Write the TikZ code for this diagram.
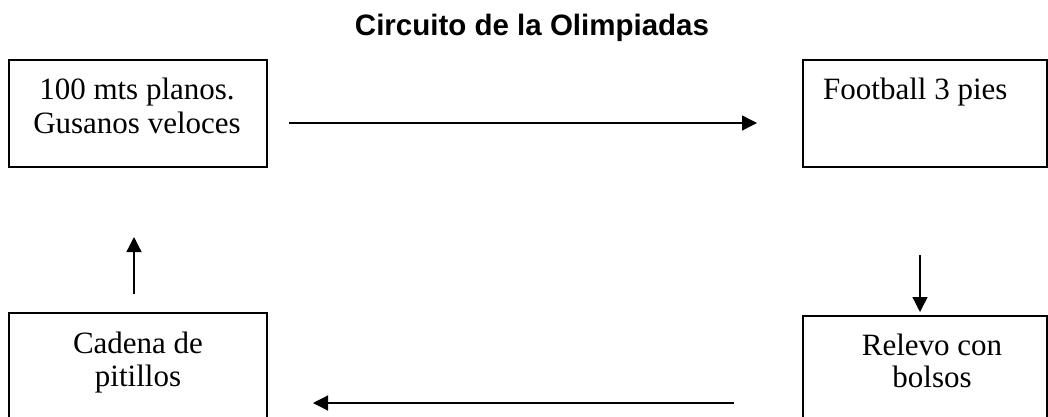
\documentclass[tikz,border=0pt]{standalone}
\usepackage{fontspec}
\setmainfont{Liberation Serif}
\newfontfamily\titlefont{Liberation Sans}
\usetikzlibrary{arrows.meta}
\begin{document}
\begin{tikzpicture}[x=1pt,y=-1pt,
  box/.style={draw=black,line width=1.3pt,fill=none},
  lbl/.style={anchor=base,inner sep=0pt,font=\fontsize{31}{36}\selectfont},
  lbll/.style={anchor=base west,inner sep=0pt,font=\fontsize{31}{36}\selectfont},
  conn/.style={line width=1.3pt,-{Triangle[length=15pt,width=15pt]}}]
\useasboundingbox (0,0) rectangle (1048,416);
\clip (0,0) rectangle (1048,416);
\fill[white] (0,0) rectangle (1048,416);
% title
\node[anchor=base,inner sep=0pt,font=\titlefont\bfseries\fontsize{29.5}{34}\selectfont] (title) at (532,35) {Circuito de la Olimpiadas};
% boxes
\draw[box] (9,60) rectangle (267,167);
\node[inner sep=0pt,minimum width=258pt,minimum height=107pt] (b1) at (138,113.5) {};
\draw[box] (803,60) rectangle (1047,167);
\node[inner sep=0pt,minimum width=244pt,minimum height=107pt] (b2) at (925,113.5) {};
\draw[box] (9,313) rectangle (267,440);
\node[inner sep=0pt,minimum width=258pt,minimum height=127pt] (b3) at (138,376.5) {};
\draw[box] (803,316) rectangle (1047,440);
\node[inner sep=0pt,minimum width=244pt,minimum height=124pt] (b4) at (925,378) {};
% texts
\node[lbl] (t1a) at (137,99) {100 mts planos.};
\node[lbl] (t1b) at (137,133) {Gusanos veloces};
\node[lbll] (t2) at (823,99) {Football 3 pies};
\node[lbl] (t3a) at (138,353) {Cadena de};
\node[lbl] (t3b) at (138,386) {pitillos};
\node[lbl] (t4a) at (932,355) {Relevo con};
\node[lbl] (t4b) at (932,387) {bolsos};
% connector end points
\coordinate (a1s) at (289,123);
\coordinate (a1e) at (757,123);
\coordinate (a2s) at (920,255);
\coordinate (a2e) at (920,312);
\coordinate (a3s) at (734,403);
\coordinate (a3e) at (313,403);
\coordinate (a4s) at (134,294);
\coordinate (a4e) at (134,237);
\draw[conn] (a1s) -- (a1e);
\draw[conn] (a2s) -- (a2e);
\draw[conn] (a3s) -- (a3e);
\draw[conn] (a4s) -- (a4e);
\end{tikzpicture}
\end{document}
